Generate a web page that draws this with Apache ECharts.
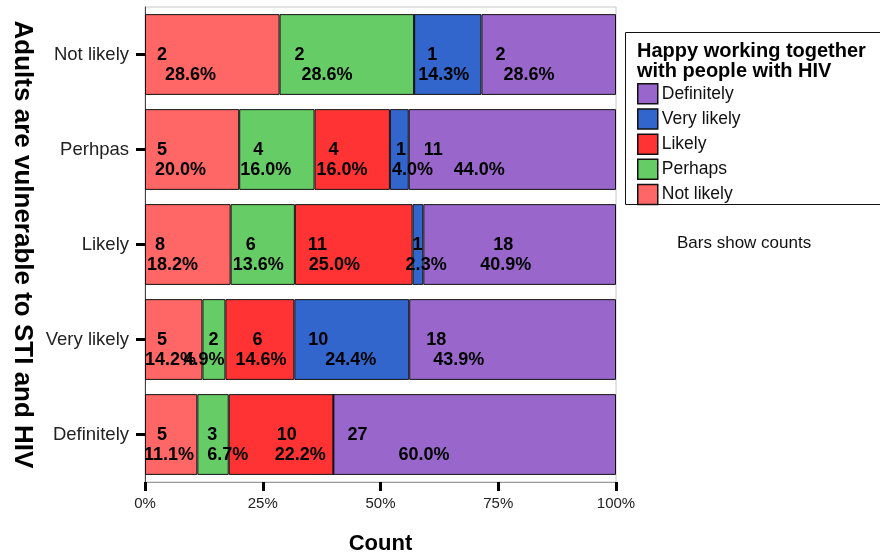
<!DOCTYPE html>
<html>
<head>
<meta charset="utf-8">
<script src="https://cdn.jsdelivr.net/npm/echarts@6/dist/echarts.min.js"></script>
<style>
  html, body { margin: 0; padding: 0; background: #fff; }
  #chart { width: 880px; height: 556px; }
</style>
</head>
<body>
<div id="chart"></div>
<script>
// Rows of the y axis, bottom to top
const categories = ['Definitely', 'Very likely', 'Likely', 'Perhpas', 'Not likely'];

// Response levels, stacked left to right
const seriesNames = ['Not likely', 'Perhaps', 'Likely', 'Very likely', 'Definitely'];
const seriesColors = ['#ff6666', '#66cc66', '#ff3333', '#3366cc', '#9966cc'];

// Counts per row (same order as categories)
const countsNotLikely  = [5, 5, 8, 5, 2];
const countsPerhaps    = [3, 2, 6, 4, 2];
const countsLikely     = [10, 6, 11, 4, 0];
const countsVeryLikely = [0, 10, 1, 1, 1];
const countsDefinitely = [27, 18, 18, 11, 2];

// Printed row percentages
const pctNotLikely  = [11.1, 14.2, 18.2, 20.0, 28.6];
const pctPerhaps    = [6.7, 4.9, 13.6, 16.0, 28.6];
const pctLikely     = [22.2, 14.6, 25.0, 16.0, null];
const pctVeryLikely = [null, 24.4, 2.3, 4.0, 14.3];
const pctDefinitely = [60.0, 43.9, 40.9, 44.0, 28.6];

// Tick values of the percentage axis
const xTicks = [0, 25, 50, 75, 100];

const legendOrder = ['Definitely', 'Very likely', 'Likely', 'Perhaps', 'Not likely'];

// Label placement: pixel nudges [count, percent] from the left edge of each segment
const labelNudge = [
  [[12, -1], [12, 0], [10, 2], [12, 10], [12, 20]],
  [[10, 10], [6, -19], [15, 2], [14, 1], [15, 22]],
  [[48, 46], [27, 10], [13, 14], [14, 2], [0, 0]],
  [[0, 0], [14, 31], [0, -7], [6, 2], [13, 4]],
  [[14, 65], [17, 24], [70, 57], [15, 45], [14, 22]]
];

const allCounts = [countsNotLikely, countsPerhaps, countsLikely, countsVeryLikely, countsDefinitely];
const allPct = [pctNotLikely, pctPerhaps, pctLikely, pctVeryLikely, pctDefinitely];

// Row totals, used to scale each bar to 100%
const totals = categories.map((_, i) => allCounts.reduce((s, arr) => s + arr[i], 0));

const FONT = '"Liberation Sans", Arial, Helvetica, sans-serif';

function itemLabel(si, i) {
  const c = allCounts[si][i];
  if (!c) return { show: false };
  const [dc, dp] = labelNudge[si][i];
  const base = Math.min(dc, dp);
  return {
    show: true,
    offset: [base, 11],
    formatter: '{c|' + c + '}\n{p|' + allPct[si][i].toFixed(1) + '%}',
    rich: {
      c: { fontSize: 18, fontWeight: 'bold', fontFamily: FONT, color: '#000', lineHeight: 20, padding: [0, 0, 0, dc - base] },
      p: { fontSize: 18, fontWeight: 'bold', fontFamily: FONT, color: '#000', lineHeight: 20, padding: [0, 0, 0, dp - base] }
    }
  };
}

const series = seriesNames.map((name, si) => ({
  name: name,
  type: 'bar',
  stack: 'all',
  barWidth: '85%',
  itemStyle: { color: seriesColors[si], borderColor: '#111', borderWidth: 1 },
  emphasis: { disabled: true },
  label: {
    show: true,
    position: 'insideLeft',
    distance: 0,
    color: '#000',
    fontFamily: FONT
  },
  data: allCounts[si].map((c, i) => ({
    value: c / totals[i] * 100,
    label: itemLabel(si, i)
  }))
}));

const chart = echarts.init(document.getElementById('chart'), null, { renderer: 'canvas' });
chart.setOption({
  animation: false,
  backgroundColor: '#fff',
  textStyle: { fontFamily: FONT },
  title: {
    text: 'Happy working together\nwith people with HIV',
    left: 637,
    top: 41,
    padding: 0,
    textStyle: { fontFamily: FONT, fontSize: 20, fontWeight: 'bold', color: '#000', lineHeight: 20 }
  },
  legend: {
    data: legendOrder,
    orient: 'vertical',
    left: 637,
    top: 83,
    padding: 0,
    itemWidth: 20,
    itemHeight: 20,
    itemGap: 3.7,
    icon: 'rect',
    selectedMode: false,
    itemStyle: { borderColor: '#111', borderWidth: 1.5 },
    textStyle: { fontFamily: FONT, fontSize: 17.5, color: '#111', padding: [0, 0, 0, -1] }
  },
  graphic: [
    {
      type: 'rect',
      shape: { x: 625.5, y: 32.5, width: 262, height: 172 },
      style: { fill: 'none', stroke: '#111', lineWidth: 1 }
    },
    {
      type: 'text',
      x: 677,
      y: 243,
      style: { text: 'Bars show counts', fontFamily: FONT, fontSize: 17, fill: '#111', verticalAlign: 'middle' }
    }
  ],
  grid: {
    left: 145,
    right: 264,
    top: 7,
    bottom: 74,
    containLabel: false,
    outerBoundsMode: 'none',
    show: true,
    borderColor: '#c8c8c8',
    borderWidth: 1,
    backgroundColor: '#fff'
  },
  xAxis: {
    type: 'value',
    min: xTicks[0],
    max: xTicks[xTicks.length - 1],
    interval: xTicks[1] - xTicks[0],
    name: 'Count',
    nameLocation: 'middle',
    nameGap: 51,
    nameTextStyle: { fontFamily: FONT, fontSize: 22, fontWeight: 'bold', color: '#000' },
    splitLine: { show: false },
    axisLine: { show: true, lineStyle: { color: '#999', width: 1 } },
    axisTick: { show: true, length: 9, lineStyle: { color: '#000', width: 3 } },
    axisLabel: { formatter: '{value}%', fontFamily: FONT, fontSize: 15, color: '#222', margin: 14 }
  },
  yAxis: {
    type: 'category',
    data: categories,
    name: 'Adults are vulnerable to STI and HIV',
    nameLocation: 'middle',
    nameRotate: -90,
    nameGap: 109,
    nameTextStyle: { fontFamily: FONT, fontSize: 26, fontWeight: 'bold', color: '#000' },
    axisLine: { show: true, lineStyle: { color: '#444', width: 1 } },
    axisTick: { show: true, alignWithLabel: true, length: 9, lineStyle: { color: '#000', width: 3 } },
    axisLabel: { fontFamily: FONT, fontSize: 18.5, color: '#222', margin: 16 },
    splitLine: { show: false }
  },
  series: series
});
</script>
</body>
</html>
